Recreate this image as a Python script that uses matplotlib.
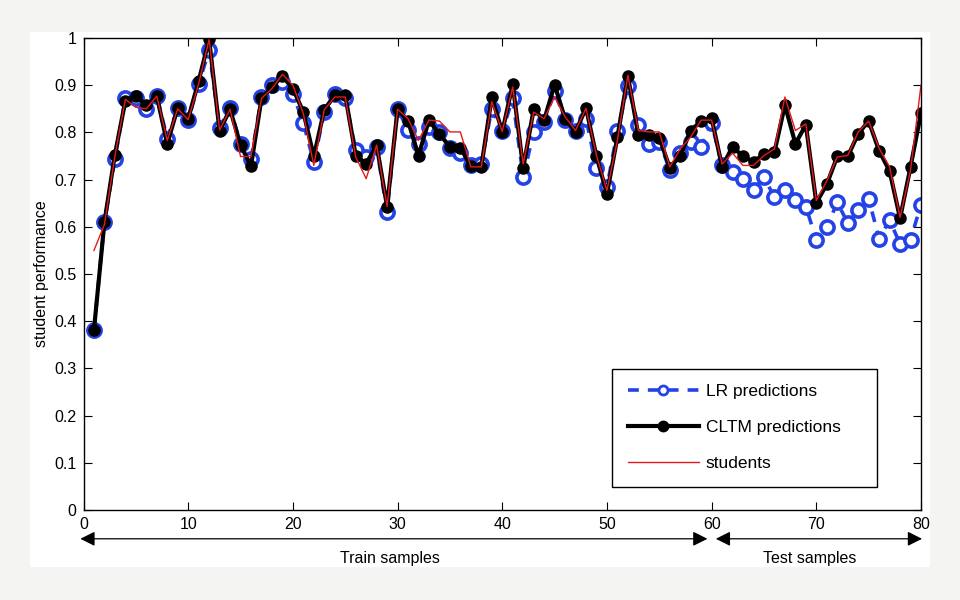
import matplotlib
matplotlib.use("Agg")
import matplotlib.pyplot as plt
import numpy as np
from matplotlib.patches import Rectangle

plt.rcParams['font.family'] = ['Liberation Sans', 'DejaVu Sans']

samples = np.arange(1, 81)

lr_pred = [0.382, 0.610, 0.743, 0.872, 0.872, 0.850, 0.877, 0.787, 0.852, 0.827,
           0.903, 0.974, 0.810, 0.852, 0.776, 0.743, 0.875, 0.900, 0.907, 0.882,
           0.820, 0.737, 0.843, 0.882, 0.872, 0.763, 0.748, 0.769, 0.631, 0.849,
           0.806, 0.776, 0.812, 0.801, 0.768, 0.756, 0.730, 0.734, 0.850, 0.802,
           0.872, 0.705, 0.801, 0.821, 0.887, 0.826, 0.804, 0.829, 0.724, 0.684,
           0.803, 0.898, 0.815, 0.776, 0.780, 0.721, 0.756, 0.780, 0.770, 0.820,
           0.730, 0.716, 0.702, 0.679, 0.705, 0.663, 0.679, 0.657, 0.643, 0.572,
           0.599, 0.652, 0.608, 0.635, 0.659, 0.575, 0.614, 0.564, 0.573, 0.647]

cltm_pred = [0.382, 0.610, 0.753, 0.867, 0.877, 0.858, 0.877, 0.776, 0.852, 0.829,
             0.909, 0.997, 0.803, 0.849, 0.773, 0.729, 0.872, 0.896, 0.919, 0.893,
             0.843, 0.749, 0.848, 0.879, 0.879, 0.751, 0.734, 0.773, 0.643, 0.849,
             0.824, 0.751, 0.826, 0.796, 0.770, 0.768, 0.728, 0.727, 0.875, 0.801,
             0.902, 0.724, 0.849, 0.826, 0.901, 0.829, 0.801, 0.852, 0.749, 0.670,
             0.790, 0.920, 0.794, 0.795, 0.789, 0.725, 0.750, 0.804, 0.824, 0.830,
             0.727, 0.770, 0.749, 0.738, 0.754, 0.758, 0.858, 0.776, 0.816, 0.651,
             0.690, 0.749, 0.749, 0.797, 0.824, 0.761, 0.718, 0.618, 0.727, 0.841]

students = [0.550, 0.605, 0.750, 0.870, 0.853, 0.850, 0.877, 0.783, 0.850, 0.827,
            0.903, 0.997, 0.805, 0.849, 0.749, 0.749, 0.872, 0.893, 0.923, 0.900,
            0.840, 0.730, 0.848, 0.875, 0.875, 0.748, 0.702, 0.773, 0.643, 0.849,
            0.829, 0.783, 0.826, 0.824, 0.801, 0.801, 0.727, 0.727, 0.865, 0.802,
            0.896, 0.733, 0.843, 0.829, 0.875, 0.833, 0.804, 0.851, 0.751, 0.677,
            0.783, 0.921, 0.804, 0.801, 0.801, 0.727, 0.765, 0.790, 0.826, 0.826,
            0.733, 0.756, 0.730, 0.730, 0.751, 0.765, 0.875, 0.804, 0.818, 0.656,
            0.697, 0.748, 0.751, 0.801, 0.824, 0.766, 0.727, 0.620, 0.720, 0.900]

fig = plt.figure(figsize=(9.6, 6), dpi=100)
fig.patch.set_facecolor('#f4f4f2')
fig.patches.append(Rectangle((30 / 960, 1 - 567 / 600), 900 / 960, 535 / 600,
                             transform=fig.transFigure, facecolor='white',
                             edgecolor='none', zorder=-10))

ax = fig.add_axes([83.5 / 960, 90 / 600, 837.5 / 960, 472 / 600])
ax.set_zorder(1)

ax.plot(samples, lr_pred, '--o', color='#2443e6', lw=2.6, ms=9.5,
        mfc='white', mec='#2443e6', mew=2.6, dashes=(3, 2.5),
        label='LR predictions')
ax.plot(samples, cltm_pred, '-o', color='black', lw=3, ms=8,
        mfc='black', mec='black', label='CLTM predictions')
ax.plot(samples, students, '-', color='#e8191c', lw=1, label='students')

ax.set_xlim(0, 80)
ax.set_ylim(0, 1)
ax.set_xticks(np.arange(0, 81, 10))
ax.set_yticks(np.arange(0, 1.01, 0.1))
ax.set_yticklabels(['0', '0.1', '0.2', '0.3', '0.4', '0.5', '0.6', '0.7', '0.8', '0.9', '1'])
ax.tick_params(direction='in', top=True, right=True, length=6, width=0.8,
               labelsize=11.5, pad=5)
for s in ax.spines.values():
    s.set_linewidth(1)
ax.set_ylabel('student performance', fontsize=11.5, labelpad=4)

leg = ax.legend(loc='lower left', bbox_to_anchor=(0.631, 0.0487, 0.3165, 0.25),
                mode='expand', fontsize=12.5,
                handlelength=4.1, handletextpad=0.4, labelspacing=1.2,
                borderpad=0.9, borderaxespad=0,
                fancybox=False, edgecolor='black', framealpha=1)
leg.get_frame().set_linewidth(1)
for h in leg.legend_handles:
    h.set_markersize(6.5)
    h.set_markeredgewidth(2)

trans = ax.get_xaxis_transform()
ax.annotate('', xy=(-0.3, -0.061), xytext=(59.6, -0.061), xycoords=trans,
            textcoords=trans, annotation_clip=False,
            arrowprops=dict(arrowstyle='<|-|>', color='black', lw=0.9,
                            mutation_scale=22, shrinkA=0, shrinkB=0))
ax.annotate('', xy=(60.4, -0.061), xytext=(80.1, -0.061), xycoords=trans,
            textcoords=trans, annotation_clip=False,
            arrowprops=dict(arrowstyle='<|-|>', color='black', lw=0.9,
                            mutation_scale=22, shrinkA=0, shrinkB=0))
ax.text(29.3, -0.102, 'Train samples', transform=trans, ha='center', va='center',
        fontsize=11.5)
ax.text(69.4, -0.102, 'Test samples', transform=trans, ha='center', va='center',
        fontsize=11.5)

fig.savefig('out.png', dpi=100, facecolor=fig.get_facecolor())
